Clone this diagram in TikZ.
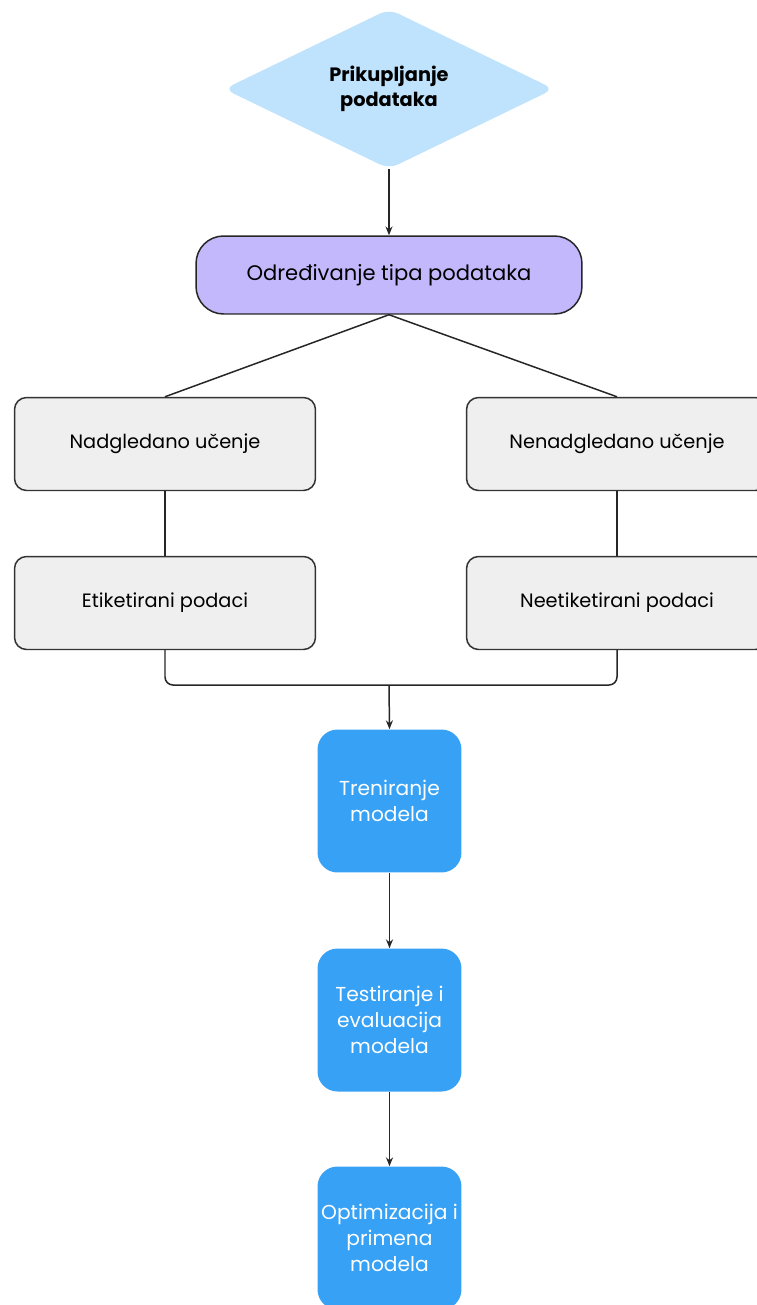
\documentclass[tikz,border=0pt]{standalone}
\usepackage{fontspec}
\setmainfont{Poppins}
\usetikzlibrary{shapes.geometric,arrows.meta}
\definecolor{lightblue}{HTML}{C0E3FD}
\definecolor{lavender}{HTML}{C4B8FC}
\definecolor{boxgray}{HTML}{EFEFEF}
\definecolor{stepblue}{HTML}{36A1F5}
\tikzset{
  conn/.style={color=black!85, line width=0.85pt},
  arr/.style={conn, -{Stealth[length=5pt,width=4pt]}},
  graybox/.style={draw=black!80, line width=0.85pt, fill=boxgray, rounded corners=0.24cm,
    minimum width=6.02cm, minimum height=1.86cm, inner sep=0pt, font=\fontsize{11}{14}\selectfont},
  bluebox/.style={fill=stepblue, rounded corners=0.4cm, minimum width=2.88cm, minimum height=2.86cm,
    inner sep=0pt, align=center, text=white, font=\fontsize{11.5}{15}\selectfont}
}

\begin{document}
\begin{tikzpicture}[x=0.02cm, y=-0.02cm]
\useasboundingbox (0,0) rectangle (757,1305);

\node[diamond, fill=lightblue, rounded corners=0.2cm, minimum width=6.6cm, minimum height=3.2cm,
  aspect=2.05, inner sep=0pt, align=center, font=\bfseries\fontsize{11}{14}\selectfont] (prik) at (389,89) {Prikupljanje\\podataka};

\node[draw=black!85, line width=0.85pt, fill=lavender, rounded corners=0.55cm, minimum width=7.72cm,
  minimum height=1.56cm, inner sep=0pt, font=\fontsize{12}{15}\selectfont] (odr) at (389,275) {Određivanje tipa podataka};

\node[graybox] (nad) at (165,444) {Nadgledano učenje};
\node[graybox] (nenad) at (617,444) {Nenadgledano učenje};
\node[graybox] (eti) at (165,603) {Etiketirani podaci};
\node[graybox] (neti) at (617,603) {Neetiketirani podaci};

\node[bluebox] (tren) at (389.5,801) {Treniranje\\modela};
\node[bluebox] (test) at (389.5,1020) {Testiranje i\\evaluacija\\modela};
\node[bluebox] (opt) at (389.5,1238) {Optimizacija i\\primena\\modela};

\coordinate (spoj) at (389,685);

\draw[arr] (prik.south) -- (odr.north);
\draw[conn] (odr.south) -- (nad.north);
\draw[conn] (odr.south) -- (nenad.north);
\draw[conn] (nad.south) -- (eti.north);
\draw[conn] (nenad.south) -- (neti.north);
\draw[conn, rounded corners=0.16cm] (eti.south) |- (spoj) -| (neti.south);
\draw[arr] (spoj) -- (tren.north);
\draw[arr] (tren.south) -- (test.north);
\draw[arr] (test.south) -- (opt.north);

\end{tikzpicture}
\end{document}
